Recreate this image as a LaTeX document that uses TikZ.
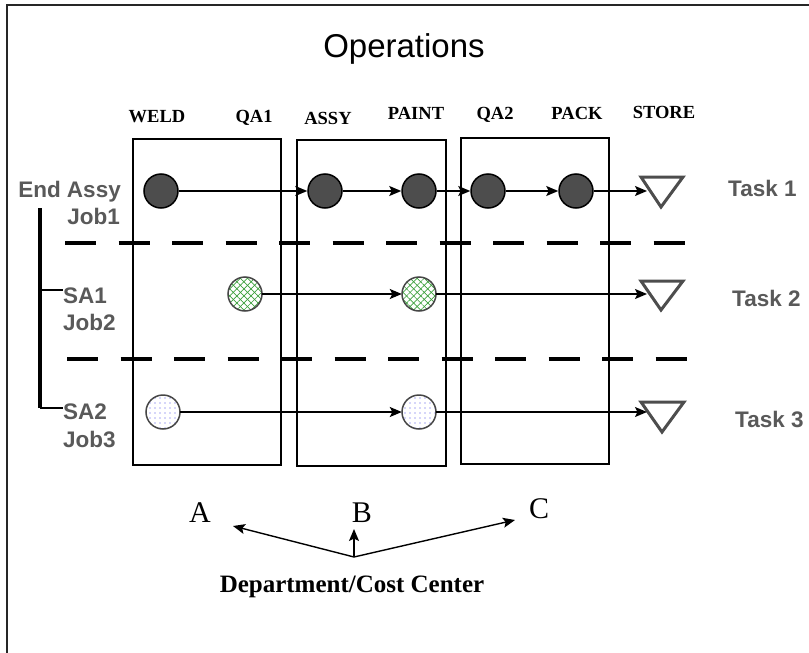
\documentclass[tikz,border=0pt]{standalone}
\usepackage{fontspec}
\setmainfont{Liberation Serif}
\newfontfamily\arialf{Liberation Sans}
\usetikzlibrary{arrows.meta,patterns.meta}
\definecolor{darkfill}{RGB}{77,77,77}
\definecolor{labgray}{RGB}{89,89,89}
\definecolor{tricol}{RGB}{77,77,77}
\definecolor{hatchgreen}{RGB}{60,160,60}
\definecolor{dotblue}{RGB}{80,80,230}
\definecolor{rimgray}{RGB}{70,70,70}
\begin{document}
\begin{tikzpicture}[x=1pt,y=-1pt,
  arr/.style={line width=1.4pt,-{Stealth[length=12pt,width=10pt,inset=2.5pt]}},
  darkcirc/.style={circle,minimum size=34pt,inner sep=0pt,fill=darkfill,draw=black,line width=1.5pt},
  hatchcirc/.style={circle,minimum size=34pt,inner sep=0pt,fill=white,
     postaction={pattern={Lines[angle=45,distance=5pt,line width=0.7pt]},pattern color=hatchgreen},
     postaction={pattern={Lines[angle=-45,distance=5pt,line width=0.7pt]},pattern color=hatchgreen},
     postaction={draw=rimgray,line width=1.5pt}},
  dotcirc/.style={circle,minimum size=34pt,inner sep=0pt,fill=white,
     postaction={pattern={Dots[distance=5pt,radius=0.6pt]},pattern color=dotblue},
     postaction={draw=rimgray,line width=1.5pt}},
  deptbox/.style={draw=black,line width=1.5pt},
  sepline/.style={line width=4.5pt,dash pattern=on 31pt off 22.5pt},
  tri/.style={draw=tricol,line width=3pt,line join=miter},
  collab/.style={anchor=base,font=\bfseries\fontsize{18.5}{20}\selectfont,inner sep=0pt},
  joblab/.style={inner sep=0pt,text=labgray,font=\arialf\bfseries\fontsize{22.5}{24}\selectfont},
  letlab/.style={anchor=base,inner sep=0pt,font=\fontsize{30}{32}\selectfont}]
\useasboundingbox (0,0) rectangle (809,653);
% frame (top and left only visible)
\draw[line width=2pt,black!85] (7,653) -- (7,5) -- (809,5);
% title
\node[anchor=base,inner sep=0pt,font=\arialf\fontsize{33}{36}\selectfont] (title) at (404,57) {Operations};
% column labels
\node[collab] (lweld) at (157,122) {WELD};
\node[collab] (lqa1) at (254,122) {QA1};
\node[collab] (lassy) at (328,124) {ASSY};
\node[collab] (lpaint) at (416,119) {PAINT};
\node[collab] (lqa2) at (495,119) {QA2};
\node[collab] (lpack) at (577,119) {PACK};
\node[collab] (lstore) at (664,118) {STORE};
% department boxes
\draw[deptbox] (133,139) rectangle (281,465);
\draw[deptbox] (297,140) rectangle (446,466);
\draw[deptbox] (461,138) rectangle (609,464);
% separators
\draw[sepline] (65,243) -- (686,243);
\draw[sepline] (67,359) -- (688,359);
% left labels
\node[joblab,anchor=base east] (lend) at (121,197) {End Assy};
\node[joblab,anchor=base east] (ljob1) at (120,224) {Job1};
\node[joblab,anchor=base west] (lsa1) at (63,303) {SA1};
\node[joblab,anchor=base west] (ljob2) at (63,330) {Job2};
\node[joblab,anchor=base west] (lsa2) at (63,419) {SA2};
\node[joblab,anchor=base west] (ljob3) at (63,447) {Job3};
% tree line
\coordinate (vtop) at (40,208);
\coordinate (vb1) at (40,290);
\coordinate (vb2) at (40,408);
\coordinate (e1) at (63,290);
\coordinate (e2) at (63,408);
\draw[line width=4pt] (vtop) -- (vb2);
\draw[line width=1.5pt] (vb1) -- (e1);
\draw[line width=1.5pt] (vb2) -- (e2);
% task labels
\node[joblab,anchor=base west] (task1) at (728,196) {Task 1};
\node[joblab,anchor=base west] (task2) at (732,306) {Task 2};
\node[joblab,anchor=base west] (task3) at (735,427) {Task 3};
% store triangles
\draw[tri] (641,177) -- (683,177) -- (661,207) -- cycle;
\draw[tri] (641,281) -- (683,281) -- (661,310) -- cycle;
\draw[tri] (641,402) -- (684,402) -- (662,432) -- cycle;
\coordinate (t1) at (647,191);
\coordinate (t2) at (647,294);
\coordinate (t3) at (647,412);
% row 1
\node[darkcirc] (w1) at (161,191) {};
\node[darkcirc] (a1) at (325,191) {};
\node[darkcirc] (p1) at (419,191) {};
\node[darkcirc] (q1) at (488,191) {};
\node[darkcirc] (k1) at (576,191) {};
\draw[arr] (w1) -- (a1);
\draw[arr] (a1) -- (p1);
\draw[arr] (p1) -- (q1);
\draw[arr] (q1) -- (k1);
\draw[arr] (k1) -- (t1);
% row 2
\node[hatchcirc] (s2) at (245,294) {};
\node[hatchcirc] (p2) at (419,294) {};
\draw[arr] (s2) -- (p2);
\draw[arr] (p2) -- (t2);
% row 3
\node[dotcirc] (d3) at (163,412) {};
\node[dotcirc] (p3) at (419,412) {};
\draw[arr] (d3) -- (p3);
\draw[arr] (p3) -- (t3);
% department letters
\node[letlab] (la) at (200,522) {A};
\node[letlab] (lb) at (362,522) {B};
\node[letlab] (lc) at (539,518) {C};
\node[anchor=base,inner sep=0pt,font=\bfseries\fontsize{25}{27}\selectfont] (dept) at (352,592) {Department/Cost Center};
\coordinate (o) at (354,557);
\coordinate (ta) at (233,526);
\coordinate (tb) at (354,529);
\coordinate (tc) at (515,520);
\draw[arr] (o) -- (ta);
\draw[arr] (o) -- (tb);
\draw[arr] (o) -- (tc);
\end{tikzpicture}
\end{document}
